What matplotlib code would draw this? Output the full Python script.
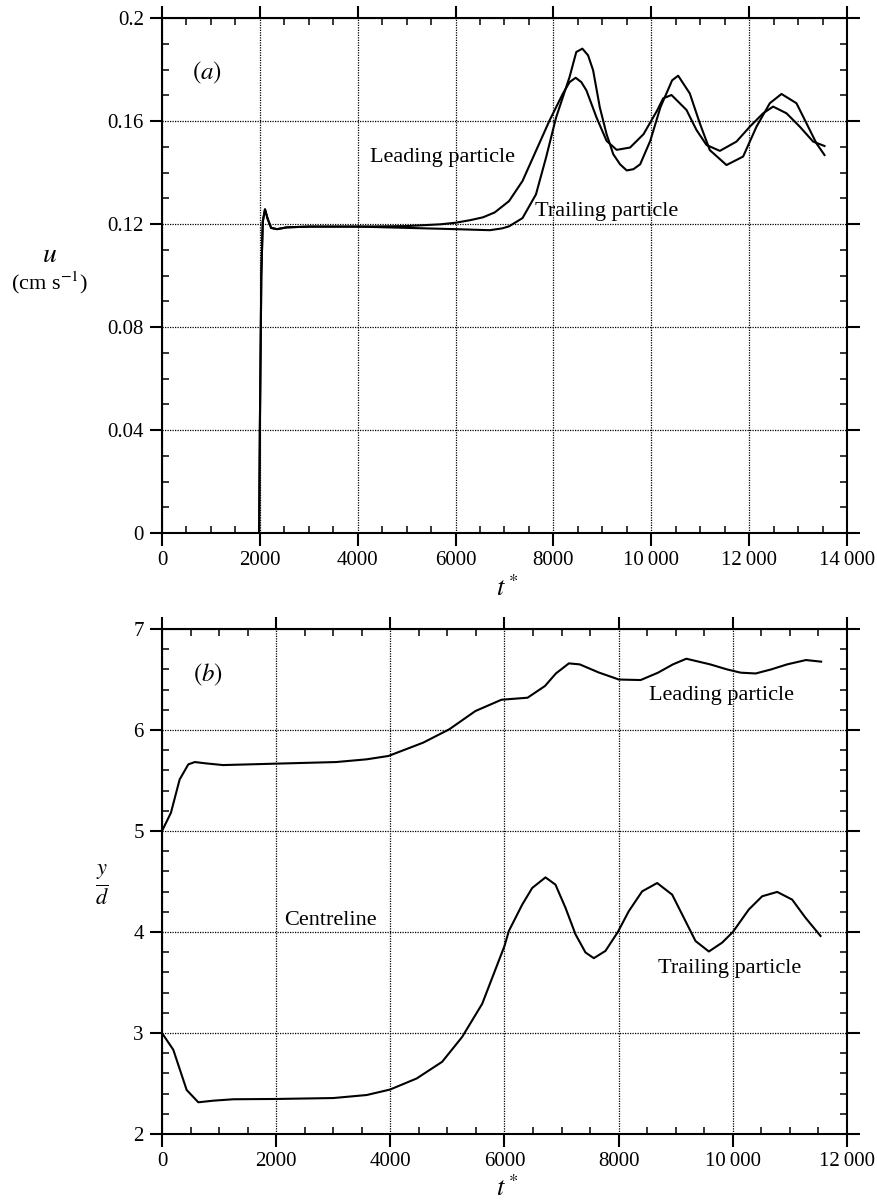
import matplotlib
matplotlib.use("Agg")
import matplotlib.pyplot as plt
from matplotlib.ticker import MultipleLocator, FuncFormatter

plt.rcParams['font.family'] = ['Liberation Serif', 'DejaVu Serif']
plt.rcParams['mathtext.fontset'] = 'stix'

# ---------------- panel (a) data ----------------
t_lead_a = [1985, 2000, 2030, 2060, 2105, 2160, 2230, 2350, 2550, 3000, 4000, 5000, 5700, 6000,
            6300, 6560, 6800, 7093, 7368, 7643, 7918, 8192, 8330, 8454, 8570, 8674, 8880, 9086,
            9292, 9567, 9842, 10117, 10243, 10413, 10719, 10924, 11128, 11401, 11741, 12014,
            12286, 12490, 12763, 13035, 13308, 13540]
u_lead_a = [0, 0.04, 0.10, 0.121, 0.1257, 0.122, 0.1185, 0.118, 0.1187, 0.119, 0.119, 0.1192,
            0.1199, 0.1205, 0.1215, 0.1226, 0.1245, 0.1289, 0.1367, 0.1484, 0.1601, 0.1706,
            0.1751, 0.1768, 0.1751, 0.1719, 0.1614, 0.1523, 0.1488, 0.1497, 0.1549, 0.1640,
            0.1688, 0.1701, 0.1643, 0.1565, 0.1507, 0.1484, 0.1520, 0.1578, 0.1630, 0.1656,
            0.1630, 0.1578, 0.1520, 0.1503]

t_trail_a = [1985, 2000, 2030, 2060, 2105, 2160, 2230, 2350, 2550, 3000, 4000, 5000, 6000, 6700,
             6950, 7093, 7368, 7643, 7849, 8055, 8330, 8467, 8591, 8708, 8811, 8948, 9086, 9223,
             9361, 9498, 9636, 9773, 9979, 10186, 10426, 10549, 10787, 10992, 11196, 11537,
             11877, 12150, 12422, 12661, 12967, 13172, 13376, 13540]
u_trail_a = [0, 0.04, 0.10, 0.121, 0.1257, 0.122, 0.1185, 0.118, 0.1187, 0.119, 0.119, 0.1185,
             0.118, 0.1176, 0.1183, 0.1191, 0.1223, 0.1315, 0.1458, 0.1614, 0.1771, 0.1868,
             0.1881, 0.1855, 0.1797, 0.1653, 0.1549, 0.1471, 0.1432, 0.1408, 0.1413, 0.1432,
             0.1523, 0.1653, 0.1758, 0.1776, 0.1707, 0.1591, 0.1487, 0.1429, 0.1462, 0.1578,
             0.1669, 0.1705, 0.1669, 0.1591, 0.1513, 0.1468]

# ---------------- panel (b) data ----------------
t_lead_b = [0, 156, 309, 461, 575, 766, 1070, 1985, 3051, 3585, 3966, 4575, 5032, 5490, 5947,
            6404, 6709, 6900, 7128, 7318, 7650, 8004, 8385, 8690, 8950, 9185, 9604, 9900, 10137,
            10400, 10670, 10950, 11280, 11547]
y_lead_b = [5.0, 5.18, 5.51, 5.66, 5.683, 5.67, 5.653, 5.667, 5.683, 5.71, 5.743, 5.875, 6.007,
            6.188, 6.30, 6.32, 6.436, 6.56, 6.66, 6.65, 6.57, 6.50, 6.495, 6.568, 6.65, 6.706,
            6.65, 6.60, 6.568, 6.56, 6.60, 6.65, 6.693, 6.677]

t_trail_b = [0, 198, 432, 636, 899, 1250, 2010, 3000, 3586, 3994, 4462, 4908, 5258, 5609, 6000,
             6076, 6309, 6485, 6718, 6893, 7069, 7244, 7419, 7565, 7769, 7985, 8178, 8412, 8674,
             8937, 9112, 9346, 9580, 9813, 10000, 10280, 10514, 10777, 11039, 11273, 11536]
y_trail_b = [3.0, 2.834, 2.436, 2.314, 2.33, 2.344, 2.347, 2.356, 2.386, 2.44, 2.55, 2.715,
             2.961, 3.289, 3.862, 4.01, 4.27, 4.436, 4.541, 4.469, 4.239, 3.977, 3.797, 3.741,
             3.813, 4.0, 4.207, 4.403, 4.485, 4.370, 4.174, 3.911, 3.807, 3.895, 4.0, 4.223,
             4.354, 4.397, 4.321, 4.141, 3.961]

xticks_a = [0, 2000, 4000, 6000, 8000, 10000, 12000, 14000]
yticks_a = [0, 0.04, 0.08, 0.12, 0.16, 0.2]
yticklabels_a = ['0', '0.04', '0.08', '0.12', '0.16', '0.2']
xticks_b = [0, 2000, 4000, 6000, 8000, 10000, 12000]
yticks_b = [2, 3, 4, 5, 6, 7]


def fmt_x(v, pos):
    v = int(round(v))
    if v >= 10000:
        return f"{v // 1000}\u2009{v % 1000:03d}"
    return str(v)


fig = plt.figure(figsize=(8.78, 12), dpi=100)
ax1 = fig.add_axes([0.1845, 0.5558, 0.7802, 0.4292])
ax2 = fig.add_axes([0.1845, 0.0550, 0.7802, 0.4208])

FS = 15
FS_T = 16
for ax in (ax1, ax2):
    for s in ax.spines.values():
        s.set_linewidth(1.5)
    ax.grid(True, which='major', linestyle=(0, (1, 1)), color='black', linewidth=0.9)
    ax.tick_params(which='major', direction='out', length=9, width=1.5, labelsize=FS,
                   top=True, right=True, pad=4)
    ax.tick_params(which='minor', direction='in', length=5, width=1.1, top=True, right=True)
    ax.xaxis.set_minor_locator(MultipleLocator(500))
    ax.xaxis.set_major_formatter(FuncFormatter(fmt_x))

ax1.plot(t_lead_a, u_lead_a, color='black', lw=1.5)
ax1.plot(t_trail_a, u_trail_a, color='black', lw=1.5)
ax1.set_xlim(0, 14000)
ax1.set_ylim(0, 0.2)
ax1.set_xticks(xticks_a)
ax1.set_yticks(yticks_a)
ax1.set_yticklabels(yticklabels_a)
ax1.yaxis.set_minor_locator(MultipleLocator(0.01))
ax1.text(920, 0.1786, r'$(a)$', fontsize=18, ha='center', va='center')
ax1.text(5743, 0.1459, 'Leading particle', fontsize=FS_T, ha='center', va='center')
ax1.text(9095, 0.1250, 'Trailing particle', fontsize=FS_T, ha='center', va='center')

ax2.plot(t_lead_b, y_lead_b, color='black', lw=1.5)
ax2.plot(t_trail_b, y_trail_b, color='black', lw=1.5)
ax2.set_xlim(0, 12000)
ax2.set_ylim(2, 7)
ax2.set_xticks(xticks_b)
ax2.set_yticks(yticks_b)
ax2.yaxis.set_minor_locator(MultipleLocator(0.2))
ax2.text(810, 6.545, r'$(b)$', fontsize=18, ha='center', va='center')
ax2.text(9806, 6.34, 'Leading particle', fontsize=FS_T, ha='center', va='center')
ax2.text(2943, 4.11, 'Centreline', fontsize=FS_T, ha='center', va='center')
ax2.text(9938, 3.64, 'Trailing particle', fontsize=FS_T, ha='center', va='center')

# axis labels
fig.text(50 / 878, 1 - 255 / 1200, r'$u$', fontsize=20, ha='center', va='center')
fig.text(50 / 878, 1 - 283 / 1200, r'(cm s$^{-1}$)', fontsize=16, ha='center', va='center')
fig.text(507 / 878, 1 - 588 / 1200, r'$t^*$', fontsize=19, ha='center', va='center')
fig.text(102 / 878, 1 - 885 / 1200, r'$\frac{y}{d}$', fontsize=23, ha='center', va='center')
fig.text(507 / 878, 1 - 1188 / 1200, r'$t^*$', fontsize=19, ha='center', va='center')

fig.savefig('out.png', dpi=100)
